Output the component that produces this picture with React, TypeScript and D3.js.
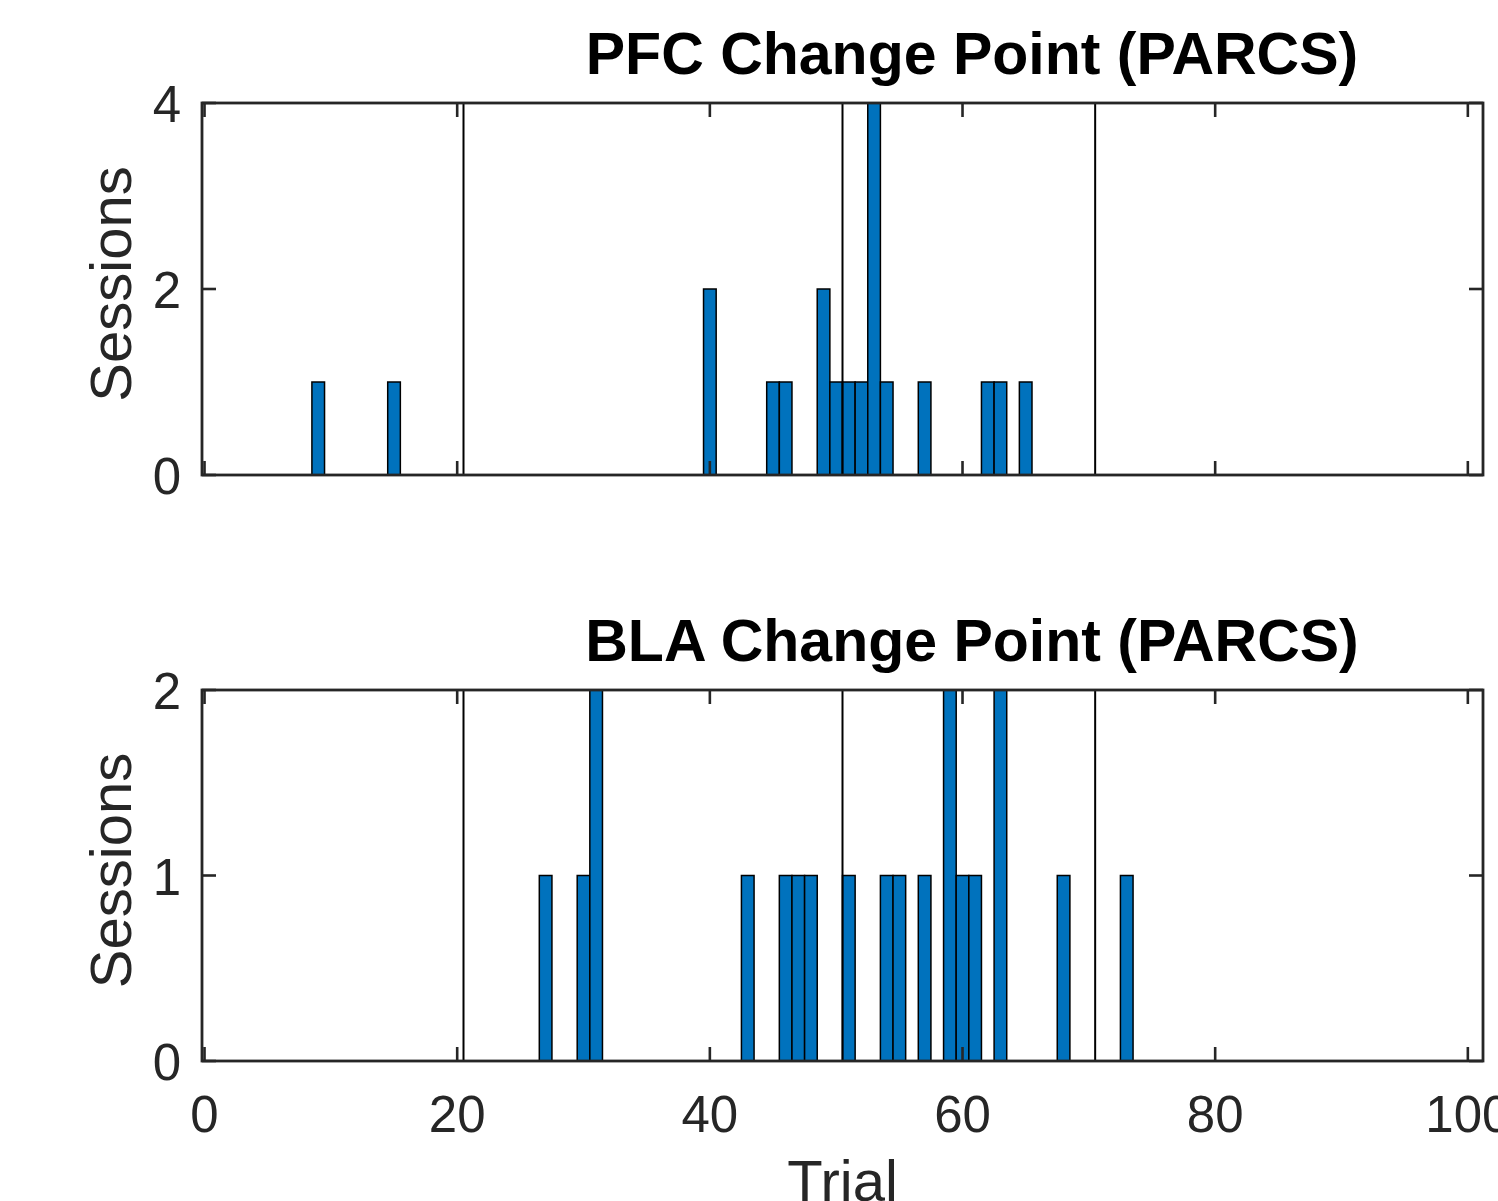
import * as d3 from "d3";
import { useEffect, useRef } from "react";

// trial bins (bin width 1, centred on the integer) and session counts
const pfcTrials = [9, 15, 40, 45, 46, 49, 50, 51, 52, 53, 54, 57, 62, 63, 65];
const pfcSessions = [1, 1, 2, 1, 1, 2, 1, 1, 1, 4, 1, 1, 1, 1, 1];
const blaTrials = [27, 30, 31, 43, 46, 47, 48, 51, 54, 55, 57, 59, 60, 61, 63, 68, 73];
const blaSessions = [1, 1, 2, 1, 1, 1, 1, 1, 1, 1, 1, 2, 1, 1, 2, 1, 1];
const changeLines = [20.5, 50.5, 70.5];
const xTicks = [0, 20, 40, 60, 80, 100];
const pfcYTicks = [0, 2, 4];
const blaYTicks = [0, 1, 2];

const FONT = "'Liberation Sans', Arial, Helvetica, sans-serif";
const AXIS_COLOR = "#262626";
const BAR_COLOR = "#0072BD";

const App = () => {
    const chartRef = useRef(null);

    useEffect(() => {
        const svg = d3.select(chartRef.current);
        svg.selectAll("*").remove();

        const left = 202;
        const right = 1483;

        const scaleX = d3.scaleLinear().domain([-0.2, 101.2]).range([left, right]);

        const panels = [
            { title: "PFC Change Point (PARCS)", trials: pfcTrials, sessions: pfcSessions, yMax: 4, yTicks: pfcYTicks, top: 103, bottom: 475, xLabels: false },
            { title: "BLA Change Point (PARCS)", trials: blaTrials, sessions: blaSessions, yMax: 2, yTicks: blaYTicks, top: 690, bottom: 1061, xLabels: true },
        ];

        panels.forEach(p => {
            const scaleY = d3.scaleLinear().domain([0, p.yMax]).range([p.bottom, p.top]);
            const g = svg.append("g");
            const data = p.trials.map((t, i) => ({ trial: t, count: p.sessions[i] }));

            // bars
            g.selectAll(".bar")
                .data(data)
                .enter()
                .append("rect")
                .attr("x", d => scaleX(d.trial - 0.5))
                .attr("y", d => scaleY(d.count))
                .attr("width", d => scaleX(d.trial + 0.5) - scaleX(d.trial - 0.5))
                .attr("height", d => scaleY(0) - scaleY(d.count))
                .attr("fill", BAR_COLOR)
                .attr("stroke", "#000")
                .attr("stroke-width", 1.5);

            // change point lines
            g.selectAll(".cp")
                .data(changeLines)
                .enter()
                .append("line")
                .attr("x1", d => scaleX(d))
                .attr("x2", d => scaleX(d))
                .attr("y1", p.top)
                .attr("y2", p.bottom)
                .attr("stroke", "#000")
                .attr("stroke-width", 2);

            // ticks (inward, all four sides)
            const tickLen = 14;
            xTicks.forEach(t => {
                const x = scaleX(t);
                g.append("line").attr("x1", x).attr("x2", x).attr("y1", p.bottom).attr("y2", p.bottom - tickLen)
                    .attr("stroke", AXIS_COLOR).attr("stroke-width", 2.6);
                g.append("line").attr("x1", x).attr("x2", x).attr("y1", p.top).attr("y2", p.top + tickLen)
                    .attr("stroke", AXIS_COLOR).attr("stroke-width", 2.6);
            });
            p.yTicks.forEach(t => {
                const y = scaleY(t);
                g.append("line").attr("x1", left).attr("x2", left + tickLen).attr("y1", y).attr("y2", y)
                    .attr("stroke", AXIS_COLOR).attr("stroke-width", 2.6);
                g.append("line").attr("x1", right).attr("x2", right - tickLen).attr("y1", y).attr("y2", y)
                    .attr("stroke", AXIS_COLOR).attr("stroke-width", 2.6);
                g.append("text")
                    .attr("x", left - 21)
                    .attr("y", y)
                    .attr("dy", "0.38em")
                    .attr("text-anchor", "end")
                    .attr("font-family", FONT)
                    .attr("font-size", 51)
                    .attr("fill", AXIS_COLOR)
                    .text(t);
            });

            // box
            g.append("rect")
                .attr("x", left)
                .attr("y", p.top)
                .attr("width", right - left)
                .attr("height", p.bottom - p.top)
                .attr("fill", "none")
                .attr("stroke", AXIS_COLOR)
                .attr("stroke-width", 2.8);

            // title
            g.append("text")
                .attr("x", 972)
                .attr("y", p.top - 29)
                .attr("text-anchor", "middle")
                .attr("font-family", FONT)
                .attr("font-weight", "bold")
                .attr("font-size", 59)
                .attr("fill", "#000")
                .text(p.title);

            // y label
            g.append("text")
                .attr("transform", `translate(131, ${(p.top + p.bottom) / 2 - 5}) rotate(-90)`)
                .attr("text-anchor", "middle")
                .attr("font-family", FONT)
                .attr("font-size", 58)
                .attr("fill", AXIS_COLOR)
                .text("Sessions");

            if (p.xLabels) {
                xTicks.forEach(t => {
                    g.append("text")
                        .attr("x", scaleX(t))
                        .attr("y", p.bottom + 71)
                        .attr("text-anchor", "middle")
                        .attr("font-family", FONT)
                        .attr("font-size", 51)
                        .attr("fill", AXIS_COLOR)
                        .text(t);
                });
                g.append("text")
                    .attr("x", (left + right) / 2)
                    .attr("y", p.bottom + 140)
                    .attr("text-anchor", "middle")
                    .attr("font-family", FONT)
                    .attr("font-size", 58)
                    .attr("fill", AXIS_COLOR)
                    .text("Trial");
            }
        });
    }, []);

    return (
        <svg
            ref={chartRef}
            width={1498}
            height={1201}
            style={{ position: "absolute", left: 0, top: 0, background: "#fff" }}
        />
    );
};

export default App;
